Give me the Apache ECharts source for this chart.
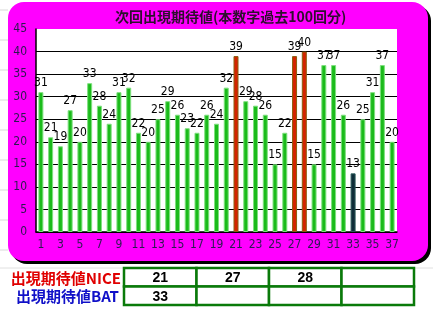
<!DOCTYPE html>
<html><head><meta charset="utf-8">
<script src="https://cdn.jsdelivr.net/npm/echarts@6/dist/echarts.min.js"></script>
<style>html,body{margin:0;padding:0;background:#fff}#c{width:433px;height:314px}</style>
</head><body><div id="c"></div>
<script>
const categories = ["1","2","3","4","5","6","7","8","9","10","11","12","13","14","15","16","17","18","19","20","21","22","23","24","25","26","27","28","29","30","31","32","33","34","35","36","37"];
const values = [31,21,19,27,20,33,28,24,31,32,22,20,25,29,26,23,22,26,24,32,39,29,28,26,15,22,39,40,15,37,37,26,13,25,31,37,20];
const niceNumbers = [21,27,28];
const batNumbers = [33];
const yTicks = [0,5,10,15,20,25,30,35,40,45];
const titleText = "次回出現期待値(本数字過去100回分)";
const niceLabel = "出現期待値NICE";
const batLabel = "出現期待値BAT";

const chart = echarts.init(document.getElementById('c'), null, {renderer:'canvas'});
const lblFont = "'Liberation Sans Narrow','DejaVu Sans Condensed',sans-serif";
const jp = "'Noto Sans CJK JP',sans-serif";

const barData = values.map((v,i)=>{
  const n = Number(categories[i]);
  let color = '#1bbb1b', border = '#7ee07e';
  if (niceNumbers.includes(n)) { color = '#d42400'; border = '#8a6010'; }
  else if (batNumbers.includes(n)) { color = '#0e2c38'; border = '#2a5a5a'; }
  return {value:v, itemStyle:{color:color, borderColor:border, borderWidth:1}};
});

const tblX = 124, tblY = 268, colW = 72.5, rowH = 18.5, nCols = 4;
const graphics = [];
[10,40,70,100,130,160,190,220,250].forEach(y=>{
  graphics.push({type:'line', z:-10, shape:{x1:0,y1:y,x2:8,y2:y}, style:{stroke:'#d8d8d8',lineWidth:1}});
});
graphics.push({type:'line', z:-10, shape:{x1:0,y1:268,x2:433,y2:268}, style:{stroke:'#e0e0e0',lineWidth:1}});
graphics.push({type:'rect', z:-5, shape:{x:11,y:5,width:420,height:259,r:16}, style:{fill:'#000'}});
graphics.push({type:'rect', z:-4, shape:{x:8,y:2,width:420,height:259,r:16}, style:{fill:'#ff00ff'}});
graphics.push({type:'rect', z:-3, shape:{x:36,y:29,width:361,height:203}, style:{fill:'#fff'}});
const rows = [niceNumbers, batNumbers];
rows.forEach((arr,r)=>{
  for (let c=0;c<nCols;c++){
    graphics.push({type:'rect', shape:{x:tblX+c*colW,y:tblY+r*rowH,width:colW,height:rowH}, style:{fill:'#fff',stroke:'#0a7a0a',lineWidth:2.5}});
    if (arr[c]!==undefined){
      graphics.push({type:'text', style:{text:String(arr[c]), x:tblX+c*colW+colW/2, y:tblY+r*rowH+rowH/2+1, textAlign:'center', textVerticalAlign:'middle', font:"bold 14px 'Liberation Sans','DejaVu Sans',sans-serif", fill:'#000'}});
    }
  }
});
graphics.push({type:'text', style:{text:niceLabel, x:121, y:tblY+rowH/2+1, textAlign:'right', textVerticalAlign:'middle', font:"bold 15px "+jp, fill:'#e00000'}});
graphics.push({type:'text', style:{text:batLabel, x:119, y:tblY+rowH*1.5+1, textAlign:'right', textVerticalAlign:'middle', font:"bold 15px "+jp, fill:'#1010c8'}});

chart.setOption({
  animation:false,
  backgroundColor:'#fff',
  title:{text:titleText, left:110, top:5, textStyle:{fontFamily:jp, fontWeight:'bold', fontSize:14, color:'#2d0f2d'}},
  grid:{left:36, right:36, top:29, bottom:82},
  xAxis:{type:'category', data:categories, boundaryGap:true,
    axisLine:{lineStyle:{color:'#000',width:1.5}},
    axisTick:{inside:true, length:3, interval:0, lineStyle:{color:'#000'}},
    axisLabel:{interval:1, color:'#2a1a50', fontFamily:lblFont, fontSize:12, margin:7}},
  yAxis:{type:'value', min:0, max:45, interval:5,
    axisLine:{show:true, lineStyle:{color:'#000',width:1.5}},
    axisTick:{show:false},
    splitLine:{show:true, showMaxLine:false, lineStyle:{color:'#000',width:1}},
    axisLabel:{color:'#2a1a50', fontFamily:lblFont, fontSize:12, margin:9,
      formatter:(v)=> yTicks.includes(v)? String(v):''}},
  series:[{type:'bar', data:barData, barWidth:5,
    label:{show:true, position:'top', distance:3, color:'#000', fontFamily:lblFont, fontSize:12}}],
  graphic:graphics
});
</script></body></html>
